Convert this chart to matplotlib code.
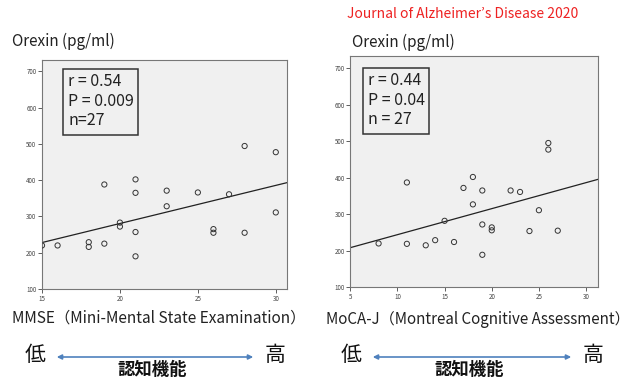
import numpy as np
import matplotlib
matplotlib.use("Agg")
import matplotlib.pyplot as plt

plt.rcParams['font.family'] = ['Noto Sans CJK JP', 'DejaVu Sans']

# MMSE vs orexin (left panel)
mmse_x = [15, 16, 18, 18, 19, 19, 20, 20, 21, 21, 21, 21,
          23, 23, 25, 26, 26, 27, 28, 28, 30, 30]
mmse_y = [220, 220, 229, 216, 388, 225, 283, 272, 402, 365, 257, 190,
          371, 328, 366, 265, 255, 361, 494, 255, 477, 311]
mmse_fit = (70.5, 10.5)          # intercept, slope
mmse_stats = "r = 0.54\nP = 0.009\nn=27"
mmse_xticks = [15, 20, 25, 30]

# MoCA-J vs orexin (right panel)
moca_x = [8, 11, 11, 13, 14, 15, 16, 17, 18, 18, 19, 19, 19,
          20, 20, 22, 23, 24, 25, 26, 26, 27]
moca_y = [220, 387, 219, 215, 229, 282, 224, 372, 402, 327, 365, 272, 189,
          264, 256, 365, 361, 254, 311, 495, 477, 255]
moca_fit = (172.9, 7.12)
moca_stats = "r = 0.44\nP = 0.04\nn = 27"
moca_xticks = [5, 10, 15, 20, 25, 30]

yticks = [100, 200, 300, 400, 500, 600, 700]

W, H = 631, 380
fig = plt.figure(figsize=(W / 100, H / 100), dpi=100)


def panel(rect, xs, ys, fit, stats, xticks, xlim, ylim, box):
    ax = fig.add_axes(rect)
    ax.set_facecolor('#f0f0f0')
    ax.scatter(xs, ys, s=14, facecolors='none', edgecolors='#333333', linewidths=0.7, zorder=3)
    lx = np.array(xlim)
    ax.plot(lx, fit[0] + fit[1] * lx, color='#222222', lw=0.9)
    ax.set_xlim(*xlim)
    ax.set_ylim(*ylim)
    ax.set_xticks(xticks)
    ax.set_yticks(yticks)
    ax.tick_params(labelsize=4.5, length=3, width=0.6, pad=1, colors='#444444')
    for s in ax.spines.values():
        s.set_color('#777777')
        s.set_linewidth(0.8)
    # stats box, given in figure pixels (x0, y0 top, x1, y1 bottom)
    x0, y0, x1, y1 = box
    fig.add_artist(matplotlib.patches.Rectangle(
        (x0 / W, 1 - y1 / H), (x1 - x0) / W, (y1 - y0) / H, transform=fig.transFigure,
        fc='#f0f0f0', ec='#333333', lw=1.1, zorder=5))
    fig.text((x0 + 5) / W, 1 - (y0 + 4) / H, stats, ha='left', va='top',
             fontsize=11.5, linespacing=1.2, color='#222222', zorder=6)
    return ax


panel([42 / W, 1 - 289 / H, 245 / W, 229 / H], mmse_x, mmse_y, mmse_fit, mmse_stats,
      mmse_xticks, (15, 30.72), (100, 731), (63, 69, 138, 135))
panel([350.3 / W, 1 - 287.3 / H, 248 / W, 231.6 / H], moca_x, moca_y, moca_fit, moca_stats,
      moca_xticks, (5, 31.3), (100, 734), (363, 68, 429, 134))

# titles and labels
fig.text(347 / W, 1 - 14 / H, "Journal of Alzheimer\u2019s Disease 2020", color='#ee2222',
         fontsize=10, va='center', ha='left')
fig.text(12 / W, 1 - 41 / H, "Orexin (pg/ml)", fontsize=11, va='center', color='#222222')
fig.text(352 / W, 1 - 42 / H, "Orexin (pg/ml)", fontsize=11, va='center', color='#222222')
fig.text(12 / W, 1 - 318 / H, "MMSE\uff08Mini-Mental State Examination\uff09", fontsize=11.1,
         va='center', color='#222222')
fig.text(326 / W, 1 - 320 / H, "MoCA-J\uff08Montreal Cognitive Assessment\uff09", fontsize=10.9,
         va='center', color='#222222')

# cognitive function arrows
for x0, x1, xc in [(25, 265, 152), (341, 583, 469)]:
    fig.text(x0 / W, 1 - 355 / H, "低", fontsize=15, va='center', ha='left', color='#111111')
    fig.text(x1 / W, 1 - 355 / H, "高", fontsize=15, va='center', ha='left', color='#111111')
    fig.text(xc / W, 1 - 370 / H, "認知機能", fontsize=12.5, va='center', ha='center',
             color='#111111', fontweight='bold')
    fig.add_artist(matplotlib.patches.FancyArrowPatch(
        ((x0 + 29) / W, 1 - 357 / H), ((x1 - 9) / W, 1 - 357 / H),
        transform=fig.transFigure, arrowstyle='<|-|>', mutation_scale=7,
        color='#4f81bd', lw=1.2))

plt.savefig("out.png", dpi=100)
